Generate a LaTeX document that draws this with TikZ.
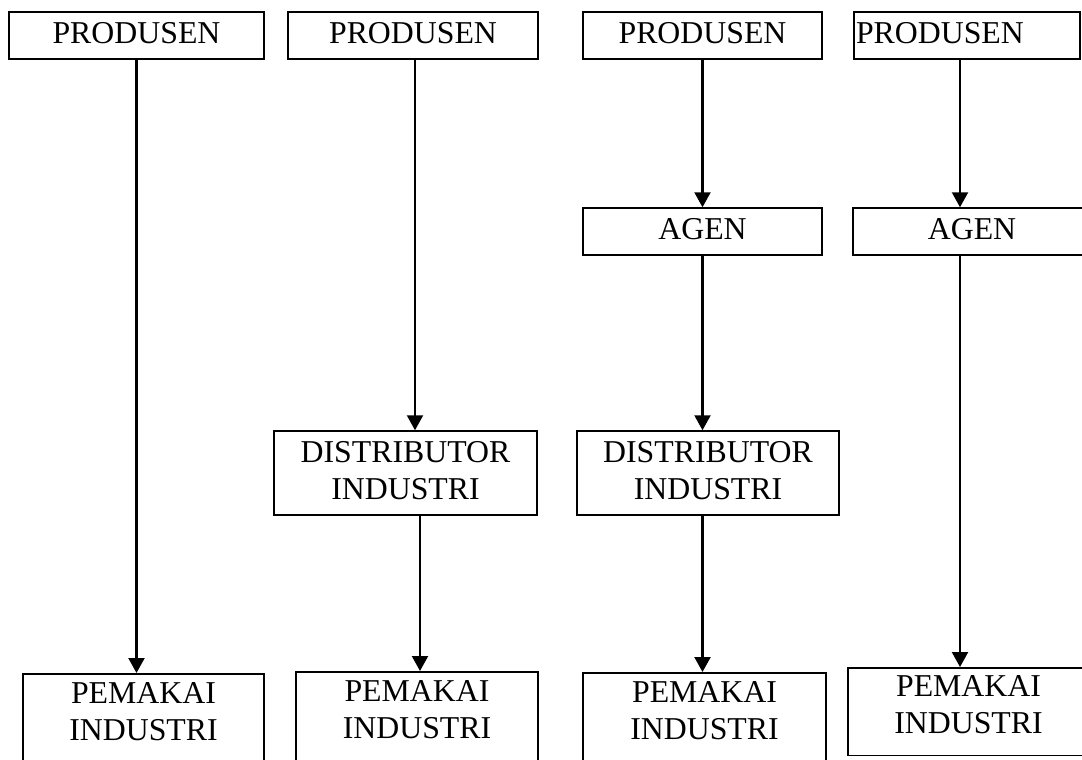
\documentclass[tikz,border=0pt]{standalone}
\usepackage{fontspec}
\setmainfont{Liberation Serif}
\usetikzlibrary{arrows.meta}

\begin{document}
\begin{tikzpicture}[%
        x = 1pt, y = -1pt,
        my box/.style = {%
          draw = black,
          line width = 1.5pt,
          inner sep = 0pt,
          align = center,
          text depth = 5pt,
          font = \fontsize{31.8}{36.5}\selectfont,
        },
        my end/.style = {%
          my box,
          anchor = north,
          inner ysep = 9pt,
          text depth = 50pt,
        },
        my arrow/.style = {%
          line width = 2.2pt,
          -{Triangle[width=16pt, length=15pt]},
        },
      ]
      \useasboundingbox (0,0) rectangle (1082,760);
      \clip (0,0) rectangle (1082,760);
      % produsen
      \node[my box, minimum width=255pt, minimum height=47pt] (produsen1) at (136.5,35.5) {PRODUSEN};
      \node[my box, minimum width=250pt, minimum height=47pt] (produsen2) at (413,35.5) {PRODUSEN};
      \node[my box, minimum width=239pt, minimum height=47pt] (produsen3) at (702.5,35.5) {PRODUSEN};
      \node[my box, minimum height=47pt, text width=222pt, align=left, inner xsep=2pt] (produsen4) at (967,35.5) {PRODUSEN};
      % agen
      \node[my box, minimum width=239pt, minimum height=47pt] (agen3) at (702.5,231.5) {AGEN};
      \node[my box, minimum width=238pt, minimum height=47pt] (agen4) at (972,231.5) {AGEN};
      % distributor
      \node[my box, minimum width=263pt, minimum height=84pt] (distributor2) at (405.5,473) {DISTRIBUTOR\\INDUSTRI};
      \node[my box, minimum width=262pt, minimum height=84pt] (distributor3) at (708,473) {DISTRIBUTOR\\INDUSTRI};
      % pemakai
      \node[my end, minimum width=241pt] (pemakai1) at (143.5,673) {PEMAKAI\\INDUSTRI};
      \node[my end, minimum width=242pt] (pemakai2) at (417,671) {PEMAKAI\\INDUSTRI};
      \node[my end, minimum width=243pt] (pemakai3) at (704.5,672) {PEMAKAI\\INDUSTRI};
      \node[my end, minimum width=241pt, inner ysep=8pt, text depth=14pt] (pemakai4) at (968.5,667) {PEMAKAI\\INDUSTRI};

      \draw[my arrow] (produsen1.south) -- (produsen1.south |- pemakai1.north);
      \draw[my arrow] ([xshift=2pt]produsen2.south) -- ([xshift=2pt]produsen2.south |- distributor2.north);
      \draw[my arrow] ([xshift=14.5pt]distributor2.south) -- ([xshift=14.5pt]distributor2.south |- pemakai2.north);
      \draw[my arrow] (produsen3.south) -- (agen3.north);
      \draw[my arrow] (agen3.south) -- (agen3.south |- distributor3.north);
      \draw[my arrow] (distributor3.south -| agen3.south) -- (agen3.south |- pemakai3.north);
      \draw[my arrow] ([xshift=-7pt]produsen4.south) -- ([xshift=-7pt]produsen4.south |- agen4.north);
      \draw[my arrow] ([xshift=-12pt]agen4.south) -- ([xshift=-12pt]agen4.south |- pemakai4.north);
    \end{tikzpicture}
\end{document}
